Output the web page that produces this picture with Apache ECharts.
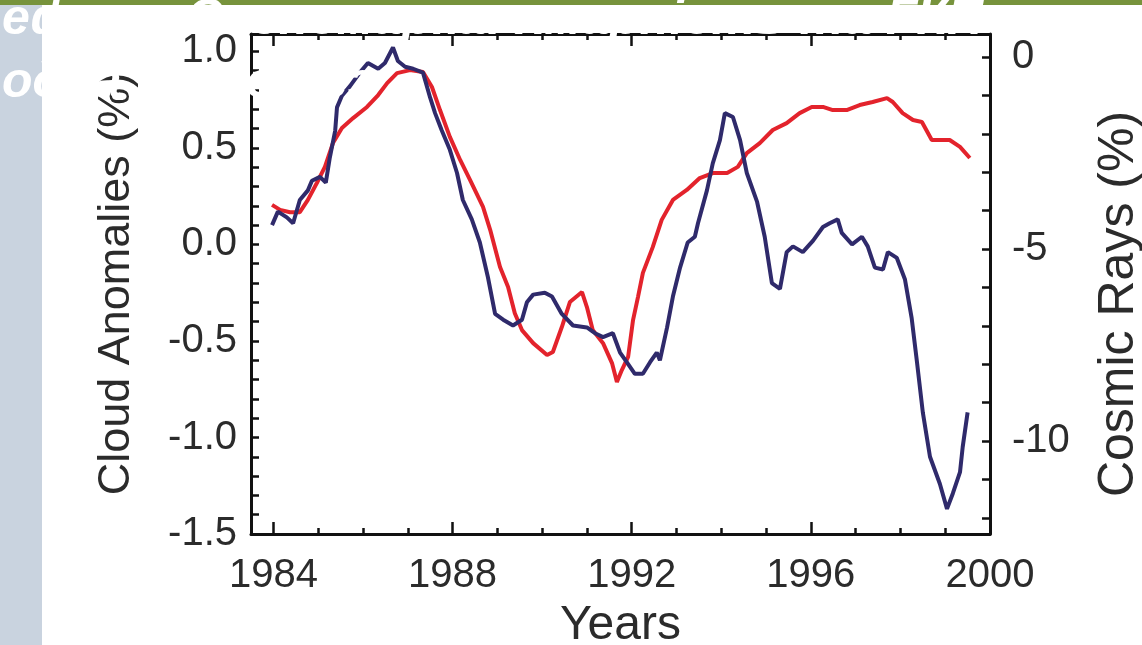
<!DOCTYPE html>
<html>
<head>
<meta charset="utf-8">
<script src="https://cdn.jsdelivr.net/npm/echarts@6.0.0/dist/echarts.min.js"></script>
<style>
  html, body { margin: 0; padding: 0; background: #fff; }
  #chart { width: 1142px; height: 645px; }
</style>
</head>
<body>
<div id="chart"></div>
<script>
// cloud anomalies (blue, left axis)
var cloudYears = [1983.97,1984.10,1984.30,1984.44,1984.59,1984.77,1984.86,1985.04,1985.17,1985.26,
  1985.38,1985.42,1985.53,1985.71,1985.93,1986.11,1986.34,1986.49,1986.67,1986.78,
  1986.94,1987.12,1987.34,1987.50,1987.61,1987.76,1987.94,1988.10,1988.23,1988.43,
  1988.61,1988.79,1988.95,1989.13,1989.35,1989.55,1989.66,1989.80,1990.06,1990.22,
  1990.44,1990.69,1991.00,1991.18,1991.36,1991.58,1991.74,1991.89,1992.07,1992.25,
  1992.41,1992.56,1992.63,1992.79,1992.92,1993.08,1993.25,1993.41,1993.48,1993.68,
  1993.81,1993.97,1994.08,1994.26,1994.42,1994.57,1994.80,1994.97,1995.13,1995.31,
  1995.46,1995.60,1995.82,1996.05,1996.27,1996.42,1996.60,1996.69,1996.92,1997.14,
  1997.27,1997.43,1997.61,1997.72,1997.92,1998.10,1998.25,1998.37,1998.50,1998.66,
  1998.88,1999.04,1999.17,1999.33,1999.39,1999.50];
var cloudValues = [0.10,0.17,0.14,0.11,0.23,0.28,0.33,0.35,0.32,0.45,
  0.59,0.71,0.77,0.82,0.89,0.94,0.91,0.94,1.02,0.95,
  0.92,0.91,0.89,0.76,0.68,0.59,0.49,0.37,0.23,0.13,
  0.01,-0.17,-0.36,-0.39,-0.42,-0.39,-0.30,-0.26,-0.25,-0.27,
  -0.36,-0.42,-0.43,-0.46,-0.48,-0.46,-0.56,-0.61,-0.67,-0.67,
  -0.61,-0.56,-0.60,-0.43,-0.27,-0.12,0.01,0.04,0.11,0.28,
  0.42,0.54,0.68,0.66,0.54,0.37,0.22,0.04,-0.20,-0.23,
  -0.04,-0.01,-0.04,0.02,0.09,0.11,0.13,0.06,0.00,0.04,
  -0.01,-0.12,-0.13,-0.04,-0.07,-0.18,-0.38,-0.61,-0.87,-1.10,
  -1.24,-1.37,-1.29,-1.18,-1.05,-0.87];

// cosmic rays (red, right axis)
var rayYears = [1983.97,1984.15,1984.37,1984.59,1984.77,1984.97,1985.15,1985.33,1985.53,1985.78,
  1986.09,1986.34,1986.54,1986.76,1987.05,1987.34,1987.54,1987.72,1987.94,1988.17,
  1988.39,1988.68,1988.84,1989.06,1989.24,1989.39,1989.55,1989.80,1990.11,1990.24,
  1990.44,1990.62,1990.89,1991.00,1991.13,1991.36,1991.56,1991.67,1991.78,1991.92,
  1992.03,1992.14,1992.25,1992.47,1992.67,1992.92,1993.23,1993.52,1993.81,1994.13,
  1994.37,1994.57,1994.86,1995.15,1995.46,1995.75,1996.02,1996.27,1996.49,1996.80,
  1997.09,1997.38,1997.70,1997.83,1998.05,1998.28,1998.48,1998.70,1998.88,1999.10,
  1999.33,1999.55];
var rayValues = [-3.85,-3.98,-4.04,-4.04,-3.72,-3.28,-2.86,-2.24,-1.85,-1.59,
  -1.30,-0.99,-0.68,-0.42,-0.34,-0.39,-0.78,-1.38,-2.08,-2.68,
  -3.20,-3.90,-4.50,-5.47,-5.99,-6.67,-7.11,-7.45,-7.76,-7.68,
  -7.03,-6.38,-6.12,-6.51,-7.11,-7.45,-7.97,-8.46,-8.15,-7.81,
  -6.85,-6.25,-5.62,-4.95,-4.24,-3.72,-3.46,-3.15,-3.02,-3.02,
  -2.86,-2.50,-2.24,-1.90,-1.72,-1.46,-1.30,-1.30,-1.38,-1.38,
  -1.25,-1.17,-1.07,-1.17,-1.46,-1.64,-1.69,-2.16,-2.16,-2.16,
  -2.34,-2.63];

// ticks
var yearLabels = [1984, 1988, 1992, 1996, 2000];
var yearMinor = [1985, 1986, 1987, 1989, 1990, 1991, 1993, 1994, 1995, 1997, 1998, 1999];
var cloudLabels = [-1.5, -1.0, -0.5, 0.0, 0.5, 1.0];
var rayLabels = [-10, -5, 0];

var cloudTicks = [];
for (var i = -14; i <= 10; i++) cloudTicks.push(i / 10);
var rayTicks = [];
for (var j = -12; j <= 0; j++) rayTicks.push(j);

var font = '"Liberation Sans", Arial, sans-serif';
var ink = '#2b2b2b';
var spine = { show: true, onZero: false, lineStyle: { color: '#111', width: 3 } };
var noSpine = { show: false, onZero: false };

function xAx(pos, ticks, len, withLabels) {
  return {
    type: 'value', position: pos, min: 1983.5, max: 2000,
    axisLine: withLabels !== null ? spine : noSpine,
    splitLine: { show: false },
    axisTick: { show: true, inside: true, length: len, customValues: ticks,
      lineStyle: { color: '#111', width: 2.5 } },
    axisLabel: withLabels ? { show: true, customValues: yearLabels, margin: 22,
      fontSize: 40, fontFamily: font, color: ink,
      formatter: function (v) { return String(v); } } : { show: false }
  };
}

var chart = echarts.init(document.getElementById('chart'));
chart.setOption({
  animation: false,
  backgroundColor: '#fff',
  grid: { left: 251, right: 152, top: 34, bottom: 111, containLabel: false, outerBoundsMode: 'none' },
  xAxis: [
    Object.assign(xAx('bottom', yearLabels, 12, true), {
      name: 'Years', nameLocation: 'middle', nameGap: 68,
      nameTextStyle: { fontSize: 48, fontFamily: font, color: ink }
    }),
    xAx('bottom', yearMinor, 6, null),
    xAx('top', yearLabels, 12, false),
    xAx('top', yearMinor, 6, null)
  ],
  yAxis: [
    {
      type: 'value', position: 'left', min: -1.5, max: 1.09,
      name: 'Cloud Anomalies (%)', nameLocation: 'middle', nameGap: 112,
      nameTextStyle: { fontSize: 45, fontFamily: font, color: ink },
      axisLine: spine, splitLine: { show: false },
      axisTick: { show: true, inside: true, length: 8, customValues: cloudTicks,
        lineStyle: { color: '#111', width: 2.5 } },
      axisLabel: { customValues: cloudLabels, margin: 14, fontSize: 40, fontFamily: font, color: ink,
        formatter: function (v) { return v.toFixed(1); } }
    },
    {
      type: 'value', position: 'right', min: -12.42, max: 0.6,
      name: 'Cosmic Rays (%)', nameLocation: 'middle', nameGap: 104,
      nameTextStyle: { fontSize: 50, fontFamily: font, color: ink, padding: [0, 40, 0, 0] },
      axisLine: spine, splitLine: { show: false },
      axisTick: { show: true, inside: true, length: 8, customValues: rayTicks,
        lineStyle: { color: '#111', width: 2.5 } },
      axisLabel: { customValues: rayLabels, margin: 22, fontSize: 40, fontFamily: font, color: ink,
        formatter: function (v) { return String(Math.round(v)); } }
    }
  ],
  series: [
    {
      name: 'Cosmic Rays', type: 'line', xAxisIndex: 0, yAxisIndex: 1,
      showSymbol: false, smooth: false,
      lineStyle: { color: '#e3232c', width: 4 },
      data: rayYears.map(function (y, k) { return [y, rayValues[k]]; })
    },
    {
      name: 'Cloud Anomalies', type: 'line', xAxisIndex: 0, yAxisIndex: 0,
      showSymbol: false, smooth: false,
      lineStyle: { color: '#2f2a6b', width: 4 },
      data: cloudYears.map(function (y, k) { return [y, cloudValues[k]]; })
    }
  ],
  graphic: [
    { type: 'rect', z: -10, shape: { x: 0, y: 0, width: 42, height: 645 }, style: { fill: '#c9d3df' } },
    { type: 'rect', z: 50, shape: { x: 0, y: 0, width: 1142, height: 5 }, style: { fill: '#77933c' } },
    { type: 'text', z: 60, x: 2, y: 20, style: {
        text: 'ефект Свенсмарка: хмарність та ГКП', fill: '#fff',
        font: 'italic bold 50px ' + font, verticalAlign: 'middle',
        shadowColor: 'rgba(0,0,0,0.25)', shadowBlur: 2 } },
    { type: 'text', z: 60, x: 2, y: 83, style: {
        text: 'одна з гіпотез', fill: '#fff',
        font: 'italic bold 50px ' + font, verticalAlign: 'middle',
        shadowColor: 'rgba(0,0,0,0.25)', shadowBlur: 2 } }
  ]
});
</script>
</body>
</html>
